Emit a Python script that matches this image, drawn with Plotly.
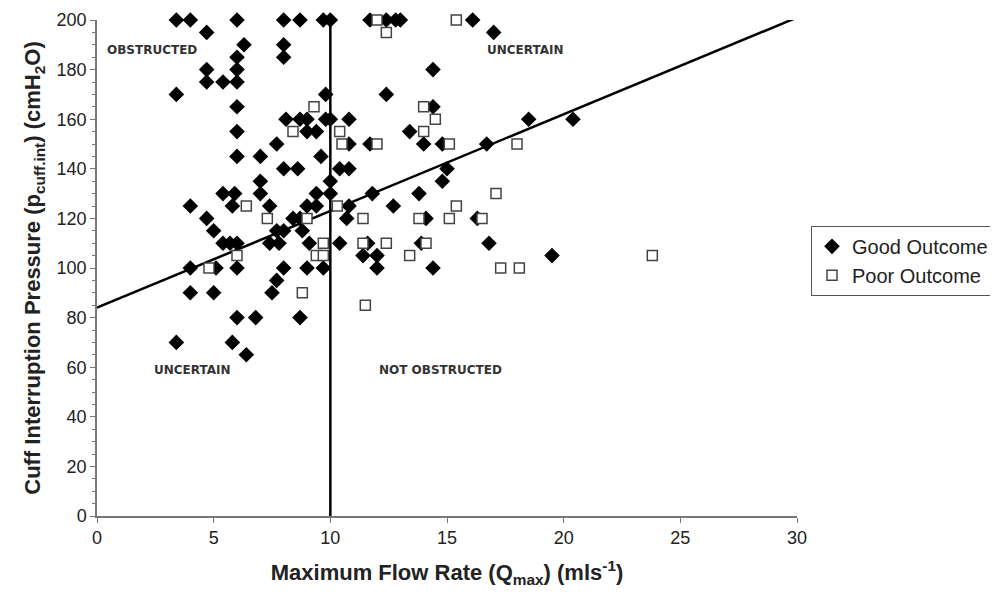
import plotly.graph_objects as go

# Good outcome (filled diamonds)
good_x = [3.4, 4.0, 6.0, 8.0, 8.7, 9.7, 10.0, 11.7, 12.4, 12.8, 13.0, 16.1,
          4.7, 17.0,
          6.3, 8.0,
          6.0, 8.0,
          4.7, 6.0, 14.4,
          4.7, 5.4, 6.0,
          3.4, 9.8, 12.4,
          6.0, 14.4,
          8.1, 8.7, 9.0, 9.8, 10.0, 10.8, 18.5, 20.4,
          6.0, 9.0, 9.4, 13.4,
          7.7, 10.8, 11.7, 14.0, 14.8, 16.7,
          6.0, 7.0, 9.6,
          8.0, 8.6, 10.4, 10.8, 15.0,
          7.0, 10.0, 14.8,
          5.4, 5.9, 7.0, 9.4, 10.0, 11.8, 13.8,
          4.0, 5.8, 7.4, 9.0, 9.4, 10.8, 12.7,
          4.7, 8.4, 8.7, 10.7, 14.1, 16.3,
          5.0, 7.7, 8.0, 8.8,
          5.4, 5.7, 6.0, 7.4, 7.8, 9.1, 10.4, 11.6, 13.9, 16.8,
          11.4, 12.0, 19.5,
          4.0, 5.1, 6.0, 8.0, 9.0, 9.7, 12.0, 14.4,
          7.7,
          4.0, 5.0, 7.5,
          6.0, 6.8, 8.7,
          3.4, 5.8,
          6.4]
good_y = [200] * 12 + [195] * 2 + [190] * 2 + [185] * 2 + [180] * 3 + [175] * 3 + \
         [170] * 3 + [165] * 2 + [160] * 8 + [155] * 4 + [150] * 6 + [145] * 3 + \
         [140] * 5 + [135] * 3 + [130] * 7 + [125] * 7 + [120] * 6 + [115] * 4 + \
         [110] * 10 + [105] * 3 + [100] * 8 + [95] * 1 + [90] * 3 + [80] * 3 + \
         [70] * 2 + [65] * 1

# Poor outcome (open squares)
poor_x = [12.0, 15.4,
          12.4,
          9.3, 14.0,
          14.5,
          8.4, 10.4, 14.0,
          10.5, 12.0, 15.1, 18.0,
          17.1,
          6.4, 10.3, 15.4,
          7.3, 9.0, 11.4, 13.8, 15.1, 16.5,
          9.7, 11.4, 12.4, 14.1,
          6.0, 9.4, 9.7, 13.4, 23.8,
          4.8, 17.3, 18.1,
          8.8,
          11.5]
poor_y = [200] * 2 + [195] + [165] * 2 + [160] + [155] * 3 + [150] * 4 + [130] + \
         [125] * 3 + [120] * 6 + [110] * 4 + [105] * 5 + [100] * 3 + [90] + [85]

# Trend line and threshold
trend_intercept = 84.0
trend_slope = 3.9
trend_x = [0, 30]
threshold_q = 10
threshold_y = [0, 200]

region_labels = ["OBSTRUCTED", "UNCERTAIN", "UNCERTAIN", "NOT OBSTRUCTED"]
region_x = [2.35, 18.35, 4.1, 14.7]
region_y = [188, 188, 59, 59]

x_ticks = [0, 5, 10, 15, 20, 25, 30]
y_ticks = list(range(0, 201, 20))

fig = go.Figure()

fig.add_trace(go.Scatter(
    x=[threshold_q, threshold_q], y=threshold_y, mode="lines",
    line=dict(color="black", width=2.5), showlegend=False, hoverinfo="skip"))

fig.add_trace(go.Scatter(
    x=trend_x, y=[trend_intercept + trend_slope * v for v in trend_x], mode="lines",
    line=dict(color="black", width=2.5), showlegend=False, hoverinfo="skip"))

fig.add_trace(go.Scatter(
    x=good_x, y=good_y, mode="markers", name="Good Outcome",
    marker=dict(symbol="diamond", size=12, color="black", line=dict(width=0)),
    cliponaxis=False))

fig.add_trace(go.Scatter(
    x=poor_x, y=poor_y, mode="markers", name="Poor Outcome",
    marker=dict(symbol="square", size=10, color="white",
                line=dict(color="#444444", width=1.5)),
    cliponaxis=False))

for t, xx, yy in zip(region_labels, region_x, region_y):
    fig.add_annotation(x=xx, y=yy, text=t, showarrow=False,
                       font=dict(family="DejaVu Sans", size=12, color="#333333",
                                 weight="bold"))

fig.update_layout(
    width=982, height=580,
    margin=dict(l=89, r=193, t=12, b=72, autoexpand=False),
    paper_bgcolor="white", plot_bgcolor="white",
    font=dict(family="Liberation Sans", size=18, color="#222222"),
    legend=dict(x=1.02, y=0.585, xanchor="left", yanchor="top",
                bordercolor="#555555", borderwidth=1,
                font=dict(family="Liberation Sans", size=20, color="#222222"),
                tracegroupgap=0, itemwidth=30),
)

fig.update_xaxes(
    range=[0, 30], tickvals=x_ticks, showgrid=False, zeroline=False,
    showline=True, linecolor="#777777", linewidth=1.5,
    ticks="outside", ticklen=5, tickcolor="#777777",
    tickfont=dict(size=18, color="#222222"), automargin=True,
    title=dict(text="<b>Maximum Flow Rate (Q<sub>max</sub>) (mls<sup>-1</sup>)</b>",
               font=dict(family="Liberation Sans", size=22, color="#222222"),
               standoff=24))

fig.update_yaxes(
    range=[0, 200], tickvals=y_ticks, showgrid=False, zeroline=False,
    showline=True, linecolor="#777777", linewidth=1.5,
    ticks="outside", ticklen=5, tickcolor="#777777",
    minor=dict(dtick=5, ticks="outside", ticklen=3, tickcolor="#777777"),
    tickfont=dict(size=18, color="#222222"),
    title=dict(text="<b>Cuff Interruption Pressure (p<sub>cuff.int</sub>) (cmH<sub>2</sub>O)</b>",
               font=dict(family="Liberation Sans", size=22, color="#222222"),
               standoff=10))

fig.write_html("out.html")
